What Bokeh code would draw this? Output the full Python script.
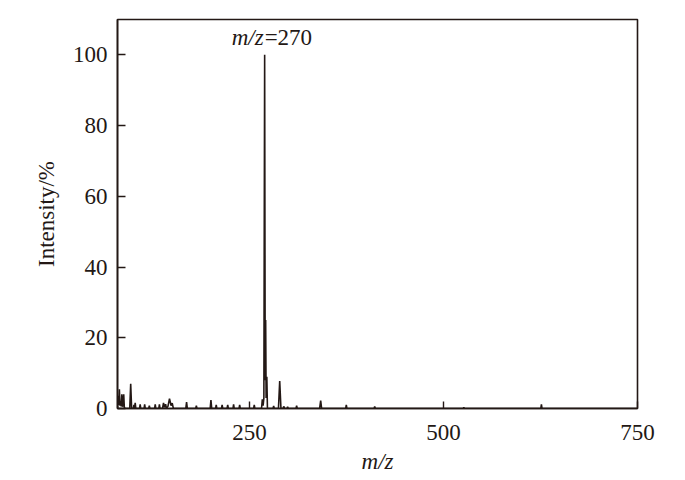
from bokeh.plotting import figure
from bokeh.models import Range1d, FixedTicker
from bokeh.core.properties import value
from bokeh.embed import file_html
from bokeh.resources import INLINE

INK = "#231815"
FONT = "Liberation Serif"

# spectrum trace (m/z, relative intensity %)
mz = [80.0, 80.8, 81.6, 82.4, 83.2, 84.0, 84.8, 85.6, 86.4, 87.2, 88.0, 88.8, 89.6,
      95.8, 97.0, 98.2, 100.4, 101.2, 102.0, 102.8, 103.6, 108.4, 109.2, 110.0,
      114.2, 115.0, 115.8, 120.2, 121.0, 121.8, 127.8, 128.6, 129.4, 133.2, 134.0, 134.8,
      138.0, 139.3, 140.4, 142.0, 143.0, 145.0, 147.0, 149.0, 150.5, 152.0,
      168.0, 169.0, 170.0, 180.8, 181.6, 182.4, 199.4, 200.4, 201.4, 206.4, 207.2, 208.0,
      214.0, 214.8, 215.6, 221.2, 222.0, 222.8, 228.8, 229.6, 230.4, 236.6, 237.4, 238.2,
      255.4, 256.2, 257.0, 265.6, 266.6, 267.6, 268.6, 269.6, 270.3, 270.9, 271.5, 272.4, 273.2,
      280.4, 281.2, 282.0, 287.4, 289.0, 290.6, 293.4, 294.2, 295.4, 298.4, 299.2, 300.0,
      310.0, 310.8, 311.6, 340.4, 341.8, 343.0, 374.0, 374.8, 375.6, 410.6, 411.4, 412.2,
      525.4, 526.2, 527.0, 625.4, 626.2, 627.0, 750.0]
intensity = [0, 3.6, 1.0, 5.4, 0.8, 2.0, 0.6, 4.0, 0.5, 1.2, 4.0, 0.3, 0,
             0, 7.0, 0, 0, 1.0, 0, 1.6, 0, 0, 1.2, 0,
             0, 1.2, 0, 0, 0.8, 0, 0, 1.2, 0, 0, 1.2, 0,
             0, 1.6, 0.3, 1.2, 0, 0.6, 2.8, 0.8, 1.5, 0,
             0, 1.8, 0, 0, 0.8, 0, 0, 2.4, 0, 0, 1.0, 0,
             0, 1.0, 0, 0, 1.0, 0, 0, 1.2, 0, 0, 1.0, 0,
             0, 1.0, 0, 0, 2.6, 0.8, 3.0, 100, 8, 25, 3, 9, 0,
             0, 0.7, 0, 0, 7.8, 0, 0, 0.6, 0, 0, 0.5, 0,
             0, 0.8, 0, 0, 2.2, 0, 0, 1.0, 0, 0, 0.6, 0,
             0, 0.3, 0, 0, 1.2, 0, 0]

x_ticks = [250, 500, 750]
y_ticks = [0, 20, 40, 60, 80, 100]
base_peak_mz = 269.6
base_peak_int = 100

p = figure(frame_width=520, frame_height=389,
           min_border_left=117, min_border_right=31, min_border_top=19, min_border_bottom=62,
           x_range=Range1d(80, 750), y_range=Range1d(0, 110),
           output_backend="svg", toolbar_location=None, background_fill_color="white",
           border_fill_color="white")

p.line(mz, intensity, line_color=INK, line_width=1.6)

p.xgrid.visible = False
p.ygrid.visible = False
p.outline_line_color = INK
p.outline_line_width = 1.6
p.outline_line_alpha = 1

for ax in (p.xaxis[0], p.yaxis[0]):
    ax.axis_line_color = INK
    ax.axis_line_width = 1.6
    ax.major_tick_line_color = INK
    ax.major_tick_line_width = 1.4
    ax.major_tick_out = 0
    ax.minor_tick_line_color = None
    ax.major_label_text_font = FONT
    ax.major_label_text_font_size = "23px"
    ax.major_label_text_color = INK
    ax.axis_label_text_font = FONT
    ax.axis_label_text_font_size = "23px"
    ax.axis_label_text_color = INK

p.xaxis.ticker = FixedTicker(ticks=x_ticks)
p.yaxis.ticker = FixedTicker(ticks=y_ticks)
p.xaxis.major_tick_in = 7
p.yaxis.major_tick_in = 8
p.xaxis.major_label_standoff = 16
p.yaxis.major_label_standoff = 10
p.xaxis.axis_label = "m/z"
p.xaxis.axis_label_text_font_style = "italic"
p.xaxis.axis_label_standoff = 6
p.yaxis.axis_label = "Intensity/%"
p.yaxis.axis_label_text_font_style = "normal"
p.yaxis.axis_label_standoff = 11

# base peak annotation "m/z=270"
p.text(x=[base_peak_mz], y=[base_peak_int], text=["m/z"], text_font=value(FONT),
       text_font_size="23px", text_font_style="italic", text_color=INK,
       text_align="left", text_baseline="alphabetic", x_offset=-33, y_offset=-17)
p.text(x=[base_peak_mz], y=[base_peak_int], text=["=270"], text_font=value(FONT),
       text_font_size="23px", text_color=INK,
       text_align="left", text_baseline="alphabetic", x_offset=0, y_offset=-17)

open("out.html", "w").write(file_html(p, INLINE))
